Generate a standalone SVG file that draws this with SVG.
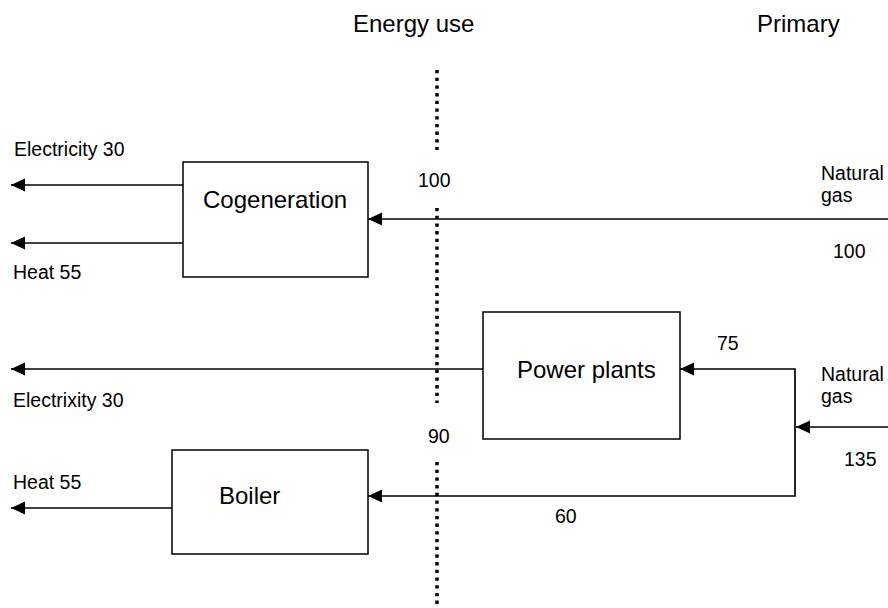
<svg xmlns="http://www.w3.org/2000/svg" width="888" height="608" viewBox="0 0 888 608">
  <style>
    text { font-family: "Liberation Sans", Arial, sans-serif; fill: #000; }
    .lbl { font-size: 19.5px; }
    .big { font-size: 24px; }
    .box { fill: #fff; stroke: #000; stroke-width: 1.5; }
    .conn { fill: none; stroke: #000; stroke-width: 1.7; }
    .dot { fill: none; stroke: #000; stroke-width: 3.5; stroke-dasharray: 3.3 4.4; }
  </style>
  <defs>
    <marker id="arrow" markerUnits="userSpaceOnUse" markerWidth="15" markerHeight="14" refX="14" refY="6.5" orient="auto">
      <path d="M0,0 L14,6.5 L0,13 z" fill="#000"/>
    </marker>
  </defs>
  <rect width="888" height="608" fill="#fff"/>

  <g id="titles">
    <text class="big" x="353" y="32">Energy use</text>
    <text class="big" x="757" y="32">Primary</text>
  </g>

  <g id="boundary">
    <line class="dot" x1="437" y1="70" x2="437" y2="150"/>
    <line class="dot" x1="437" y1="208" x2="437" y2="403"/>
    <line class="dot" x1="437" y1="462" x2="437" y2="604"/>
  </g>

  <g id="connectors">
    <path class="conn" d="M183,185 H11" marker-end="url(#arrow)"/>
    <path class="conn" d="M183,243 H11" marker-end="url(#arrow)"/>
    <path class="conn" d="M888,219 H368" marker-end="url(#arrow)"/>
    <path class="conn" d="M483,369 H11" marker-end="url(#arrow)"/>
    <path class="conn" d="M888,427 H796" marker-end="url(#arrow)"/>
    <path class="conn" d="M795,427 V369 H680" marker-end="url(#arrow)"/>
    <path class="conn" d="M795,427 V496 H368" marker-end="url(#arrow)"/>
    <path class="conn" d="M172,508 H11" marker-end="url(#arrow)"/>
  </g>

  <g id="cogeneration">
    <rect class="box" x="183" y="162" width="185" height="115"/>
    <text class="big" x="203" y="208">Cogeneration</text>
  </g>

  <g id="power-plants">
    <rect class="box" x="483" y="312" width="197" height="127"/>
    <text class="big" x="517" y="378">Power plants</text>
  </g>

  <g id="boiler">
    <rect class="box" x="172" y="450" width="196" height="104"/>
    <text class="big" x="219" y="504">Boiler</text>
  </g>

  <g id="labels">
    <text class="lbl" x="14" y="156">Electricity 30</text>
    <text class="lbl" x="13" y="279">Heat 55</text>
    <text class="lbl" x="418" y="187">100</text>
    <text class="lbl" x="821" y="180">Natural</text>
    <text class="lbl" x="821" y="202">gas</text>
    <text class="lbl" x="833" y="258">100</text>
    <text class="lbl" x="13" y="407">Electrixity 30</text>
    <text class="lbl" x="717" y="350">75</text>
    <text class="lbl" x="821" y="381">Natural</text>
    <text class="lbl" x="821" y="403">gas</text>
    <text class="lbl" x="844" y="466">135</text>
    <text class="lbl" x="428" y="443">90</text>
    <text class="lbl" x="13" y="489">Heat 55</text>
    <text class="lbl" x="555" y="523">60</text>
  </g>
</svg>
